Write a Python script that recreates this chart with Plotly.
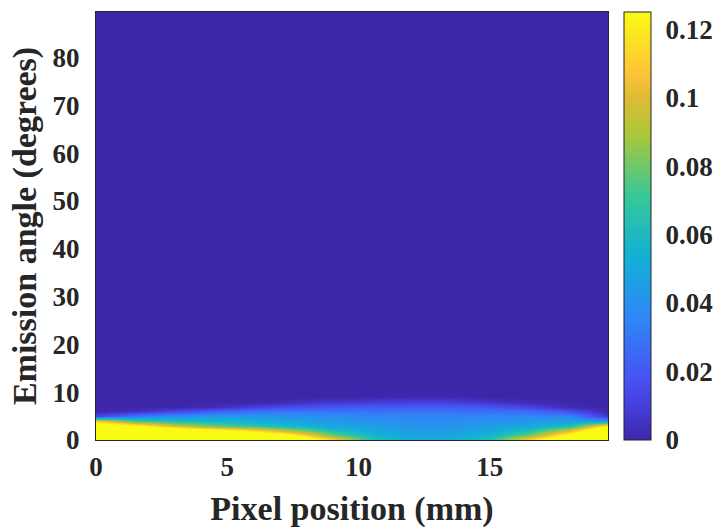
import numpy as np
import plotly.graph_objects as go

# Pixel positions (mm) sampled along the detector
positions_mm = [0, 1.5, 3, 4.5, 6, 7.5, 9, 10.5, 12, 13.5, 15, 16.5, 18, 19.5]

# Emission angles (degrees); everything above ~10 deg is dark
angles_deg = [0, 1, 2, 3, 4, 5, 6, 7, 8, 9, 10, 90]

# Emission intensity per pixel position, one list per column (angle order as above)
col_00_0 = [0.200, 0.200, 0.180, 0.150, 0.110, 0.012, 0.000, 0, 0, 0, 0, 0]
col_01_5 = [0.200, 0.190, 0.170, 0.130, 0.075, 0.030, 0.003, 0, 0, 0, 0, 0]
col_03_0 = [0.200, 0.180, 0.150, 0.100, 0.062, 0.040, 0.012, 0.000, 0, 0, 0, 0]
col_04_5 = [0.190, 0.170, 0.130, 0.080, 0.058, 0.044, 0.022, 0.003, 0, 0, 0, 0]
col_06_0 = [0.180, 0.150, 0.110, 0.068, 0.053, 0.043, 0.028, 0.010, 0.000, 0, 0, 0]
col_07_5 = [0.160, 0.125, 0.085, 0.058, 0.048, 0.040, 0.030, 0.016, 0.003, 0, 0, 0]
col_09_0 = [0.115, 0.080, 0.060, 0.050, 0.044, 0.038, 0.030, 0.019, 0.007, 0.000, 0, 0]
col_10_5 = [0.065, 0.055, 0.050, 0.045, 0.040, 0.035, 0.029, 0.020, 0.009, 0.001, 0, 0]
col_12_0 = [0.050, 0.048, 0.045, 0.042, 0.039, 0.035, 0.029, 0.021, 0.010, 0.002, 0, 0]
col_13_5 = [0.050, 0.048, 0.045, 0.042, 0.039, 0.035, 0.029, 0.021, 0.010, 0.002, 0, 0]
col_15_0 = [0.065, 0.055, 0.049, 0.045, 0.040, 0.035, 0.028, 0.018, 0.006, 0.000, 0, 0]
col_16_5 = [0.115, 0.080, 0.060, 0.050, 0.043, 0.036, 0.026, 0.012, 0.002, 0.000, 0, 0]
col_18_0 = [0.160, 0.130, 0.095, 0.062, 0.047, 0.036, 0.016, 0.002, 0.000, 0, 0, 0]
col_19_5 = [0.200, 0.190, 0.160, 0.125, 0.045, 0.006, 0.000, 0, 0, 0, 0, 0]

columns = [col_00_0, col_01_5, col_03_0, col_04_5, col_06_0, col_07_5, col_09_0,
           col_10_5, col_12_0, col_13_5, col_15_0, col_16_5, col_18_0, col_19_5]

# rows = angles, columns = positions
z = np.array(columns).T

x_ticks = [0, 5, 10, 15]
y_ticks = [0, 10, 20, 30, 40, 50, 60, 70, 80]
cbar_ticks = [0, 0.02, 0.04, 0.06, 0.08, 0.1, 0.12]
cbar_labels = ["0", "0.02", "0.04", "0.06", "0.08", "0.1", "0.12"]

# Parula-style colour map
parula = [
    [0.000, "rgb(62,38,168)"],
    [0.071, "rgb(69,60,216)"],
    [0.143, "rgb(72,82,244)"],
    [0.286, "rgb(46,135,247)"],
    [0.429, "rgb(18,177,214)"],
    [0.571, "rgb(55,200,151)"],
    [0.714, "rgb(171,199,57)"],
    [0.800, "rgb(222,188,52)"],
    [0.857, "rgb(254,195,56)"],
    [1.000, "rgb(249,251,21)"],
]

FONT = "Liberation Serif"
INK = "#262626"

fig = go.Figure(
    go.Heatmap(
        x=positions_mm,
        y=angles_deg,
        z=z,
        zmin=0,
        zmax=0.125,
        zsmooth="best",
        colorscale=parula,
        colorbar=dict(
            x=1.031,
            xanchor="left",
            xref="paper",
            y=0.5,
            yanchor="middle",
            len=1.0,
            lenmode="fraction",
            thickness=27,
            xpad=0,
            ypad=0,
            outlinewidth=1,
            outlinecolor=INK,
            tickmode="array",
            tickvals=cbar_ticks,
            ticktext=cbar_labels,
            ticks="outside",
            ticklen=9,
            tickcolor="rgba(0,0,0,0)",
            tickfont=dict(family=FONT, size=27, color=INK, weight="bold"),
        ),
    )
)

axis_common = dict(
    showgrid=False,
    zeroline=False,
    showline=True,
    mirror=True,
    linecolor=INK,
    linewidth=1,
    ticks="",
    tickfont=dict(family=FONT, size=27, color=INK, weight="bold"),
)

fig.update_xaxes(
    range=[0, 19.5],
    tickmode="array",
    tickvals=x_ticks,
    ticklabelstandoff=3,
    title=dict(text="Pixel position (mm)", standoff=15,
               font=dict(family=FONT, size=34, color=INK, weight="bold")),
    **axis_common,
)
fig.update_yaxes(
    range=[0, 89.5],
    tickmode="array",
    tickvals=y_ticks,
    ticklabelstandoff=10,
    title=dict(text="Emission angle (degrees)", standoff=5,
               font=dict(family=FONT, size=34, color=INK, weight="bold")),
    **axis_common,
)

fig.update_layout(
    width=713,
    height=528,
    margin=dict(l=96, r=105, t=12, b=88, autoexpand=False),
    paper_bgcolor="white",
    plot_bgcolor="white",
)

fig.write_html("out.html")
